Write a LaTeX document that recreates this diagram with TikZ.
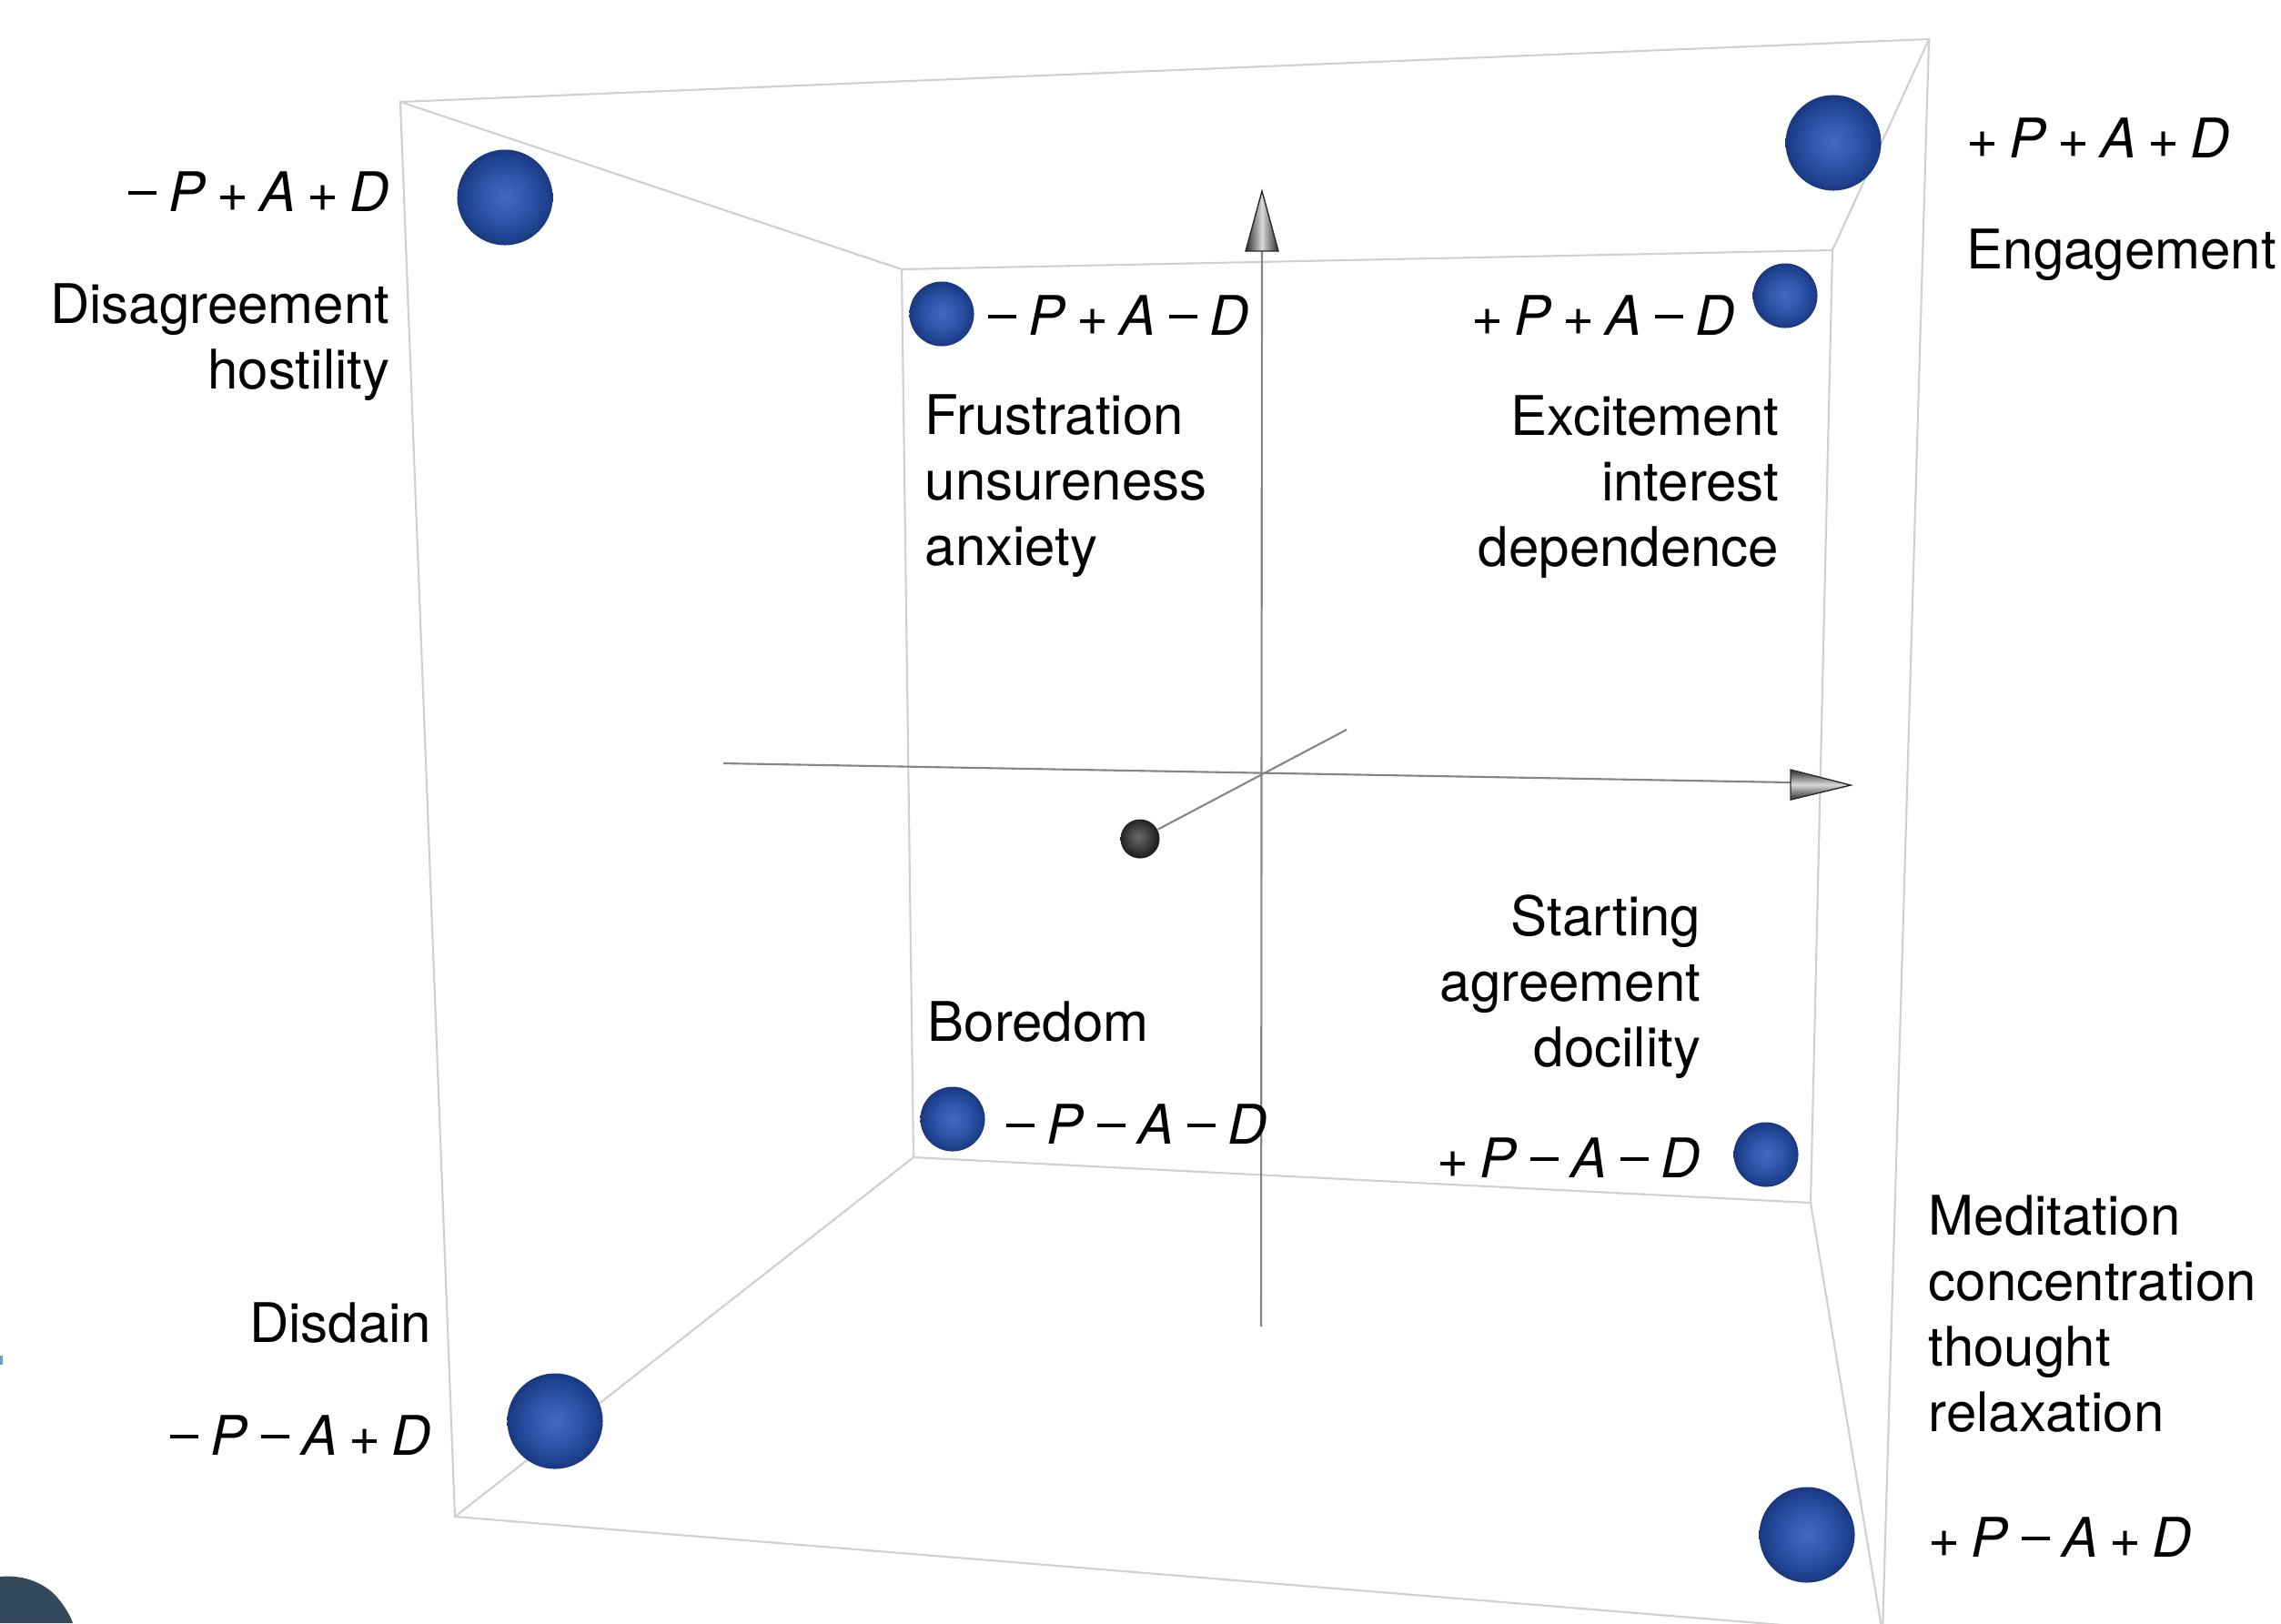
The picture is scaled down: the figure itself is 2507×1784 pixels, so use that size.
\documentclass[tikz,border=0pt]{standalone}
\usepackage{fontspec}
\setmainfont{TeX Gyre Heros}
\definecolor{edgegray}{HTML}{D0D0D0}
\definecolor{axisgray}{HTML}{858585}
\definecolor{sphC}{HTML}{426AC2}
\definecolor{sphM}{HTML}{2E56AC}
\definecolor{sphE}{HTML}{20438F}
\definecolor{sphR}{HTML}{1A3781}
\definecolor{darkC}{HTML}{6A6A6A}
\definecolor{darkM}{HTML}{3A3A3A}
\definecolor{darkE}{HTML}{1E1E1E}
\definecolor{coneD}{HTML}{2C2C2C}
\definecolor{coneL}{HTML}{D8D8D8}
\definecolor{blobcol}{HTML}{34495A}
\pgfdeclareradialshading{bluesph}{\pgfpoint{0bp}{0bp}}{color(0bp)=(sphC); color(12bp)=(sphM); color(21bp)=(sphE); color(25bp)=(sphR); color(50bp)=(sphR)}
\pgfdeclareradialshading{darksph}{\pgfpoint{-3bp}{3bp}}{color(0bp)=(darkC); color(16bp)=(darkM); color(25bp)=(darkE); color(50bp)=(darkE)}
\newcommand\mns{\makebox[0.584em]{\rule[0.30em]{0.52em}{0.07em}}}
\newcommand\padlab[3]{#1\hspace{0.2em}\textit{P}\hspace{0.2em}#2\hspace{0.2em}\textit{A}\hspace{0.2em}#3\hspace{0.2em}\textit{D}}
\newcommand\rlines[1]{\begin{tabular}[t]{@{}r@{}}#1\end{tabular}}
\newcommand\llines[1]{\begin{tabular}[t]{@{}l@{}}#1\end{tabular}}
\begin{document}
\begin{tikzpicture}[x=0.01cm,y=-0.01cm,
  cubeedge/.style={draw=edgegray,line width=0.6pt},
  axisline/.style={draw=axisgray,line width=0.6pt},
  bigsph/.style={circle,inner sep=0pt,minimum size=1.05cm,shading=bluesph},
  smallsph/.style={circle,inner sep=0pt,minimum size=0.71cm,shading=bluesph},
  darkball/.style={circle,inner sep=0pt,minimum size=0.43cm,shading=darksph},
  lbl/.style={inner sep=0pt,font=\fontsize{17.07pt}{20.5pt}\selectfont}]
\useasboundingbox (0,0) rectangle (2507,1784);
\clip (0,0) rectangle (2507,1784);
\fill[white] (0,0) rectangle (2507,1784);
% cube corners
\coordinate (oTL) at (440,112);
\coordinate (oTR) at (2120,43);
\coordinate (oBL) at (500,1667);
\coordinate (oBR) at (2069,1795);
\coordinate (iTL) at (991,296);
\coordinate (iTR) at (2014,275);
\coordinate (iBL) at (1004,1272);
\coordinate (iBR) at (1990,1322);
% edges
\draw[cubeedge] (oTL) -- (oTR) -- (oBR) -- (oBL) -- cycle;
\draw[cubeedge] (iTL) -- (iTR) -- (iBR) -- (iBL) -- cycle;
\draw[cubeedge] (oTL) -- (iTL);
\draw[cubeedge] (oTR) -- (iTR);
\draw[cubeedge] (oBL) -- (iBL);
\draw[cubeedge] (oBR) -- (iBR);
% axes
\coordinate (vbot) at (1386,1458);
\coordinate (vbase) at (1387,275);
\coordinate (hleft) at (795,839);
\coordinate (hbase) at (1968,860);
\coordinate (dfar) at (1480,802);
\draw[axisline] (vbot) -- (vbase);
\draw[axisline] (hleft) -- (hbase);
\node[darkball] (ball) at (1253,922) {};
\draw[axisline] (dfar) -- (ball);
% cones
\shade[left color=coneD,right color=coneD,middle color=coneL] (1387,210) -- (1405,276) -- (1369,276) -- cycle;
\draw[coneD,line width=0.4pt] (1387,210) -- (1405,276) -- (1369,276) -- cycle;
\shade[top color=coneD,bottom color=coneD,middle color=coneL] (2034,863) -- (1968,846) -- (1968,879) -- cycle;
\draw[coneD,line width=0.4pt] (2034,863) -- (1968,846) -- (1968,879) -- cycle;
% spheres
\node[bigsph] (s1) at (555,217) {};
\node[bigsph] (s2) at (2015,157) {};
\node[smallsph] (s3) at (1035,345) {};
\node[smallsph] (s4) at (1962,325) {};
\node[smallsph] (s5) at (1047,1230) {};
\node[smallsph] (s6) at (1941,1269) {};
\node[bigsph] (s7) at (610,1562) {};
\node[bigsph] (s8) at (1986,1687) {};
% labels
\node[lbl,anchor=base east] (l1) at (429,232) {\padlab{\mns}{+}{+}};
\node[lbl,anchor=base east] (t1) at (429,355) {\rlines{Disagreement\\hostility}};
\node[lbl,anchor=base west] (l2) at (2161,173) {\padlab{+}{+}{+}};
\node[lbl,anchor=base west] (t2) at (2161,295) {Engagement};
\node[lbl,anchor=base west] (l3) at (1083,368) {\padlab{\mns}{+}{\mns}};
\node[lbl,anchor=base west] (t3) at (1016,477) {\llines{Frustration\\unsureness\\anxiety}};
\node[lbl,anchor=base east] (l4) at (1908,368) {\padlab{+}{+}{\mns}};
\node[lbl,anchor=base east] (t4) at (1956,478) {\rlines{Excitement\\interest\\dependence}};
\node[lbl,anchor=base east] (t5) at (1870,1028) {\rlines{Starting\\agreement\\docility}};
\node[lbl,anchor=base west] (t6) at (1019,1144) {Boredom};
\node[lbl,anchor=base west] (l6) at (1103,1257) {\padlab{\mns}{\mns}{\mns}};
\node[lbl,anchor=base east] (l5) at (1870,1294) {\padlab{+}{\mns}{\mns}};
\node[lbl,anchor=base west] (t7) at (2119,1357) {\llines{Meditation\\concentration\\thought\\relaxation}};
\node[lbl,anchor=base west] (l7) at (2119,1711) {\padlab{+}{\mns}{+}};
\node[lbl,anchor=base east] (t8) at (475,1475) {Disdain};
\node[lbl,anchor=base east] (l8) at (475,1599) {\padlab{\mns}{\mns}{+}};
% corner fragment
\fill[blobcol] (0,1733) .. controls (28,1730) and (52,1742) .. (64,1757) .. controls (72,1767) and (78,1777) .. (80,1784) -- (0,1784) -- cycle;
\fill[cyan!50!gray] (0,1490) rectangle (3,1500);
\end{tikzpicture}
\end{document}
